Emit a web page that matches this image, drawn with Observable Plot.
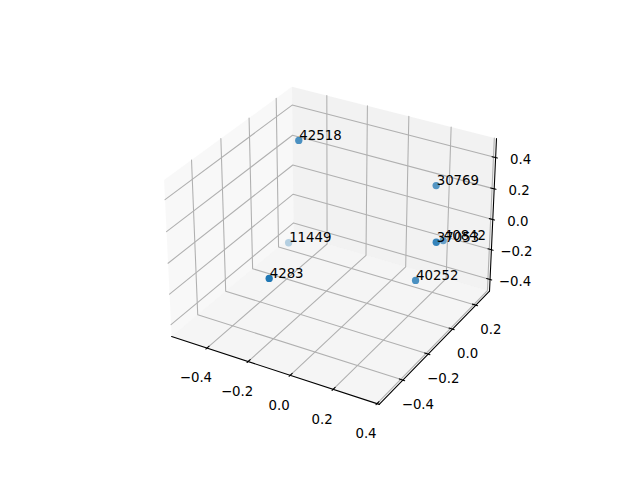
<!DOCTYPE html>
<html><head><meta charset="utf-8">
<style>html,body{margin:0;padding:0;background:#fff}svg{display:block}</style>
<script src="https://cdn.jsdelivr.net/npm/d3@7"></script>
<script src="https://cdn.jsdelivr.net/npm/@observablehq/plot@0.6"></script>
</head><body>
<script>
const xlim=[-0.575,0.41], ylim=[-0.58,0.32], zlim=[-0.48,0.52];
const labels=["42518","30769","37053","40842","40252","11449","4283"];
const xs=[-0.300,0.220,0.334,0.266,0.263,-0.444,-0.177];
const ys=[-0.048,0.171,-0.022,0.161,-0.057,0.084,-0.455];
const zs=[0.504,0.255,0.075,-0.077,-0.174,-0.313,-0.032];
const xTicks=[-0.4,-0.2,0,0.2,0.4], yTicks=[-0.4,-0.2,0,0.2], zTicks=[-0.4,-0.2,0,0.2,0.4];

const norm=Math.hypot(4,4,3), k=1.8294640721620434*25/24/norm;
const A=[4*k,4*k,3*k], R=A.map(a=>a/2), el=30*Math.PI/180, az=-60*Math.PI/180, D=10;
const w=[Math.cos(el)*Math.cos(az),Math.cos(el)*Math.sin(az),Math.sin(el)];
const E=R.map((r,i)=>r+D*w[i]);
const cross=(a,b)=>[a[1]*b[2]-a[2]*b[1],a[2]*b[0]-a[0]*b[2],a[0]*b[1]-a[1]*b[0]];
const nrm=a=>{const n=Math.hypot(...a);return a.map(v=>v/n)};
const u=nrm(cross([0,0,1],w)), v=cross(w,u);
const dot=(a,b)=>a[0]*b[0]+a[1]*b[1]+a[2]*b[2];
function proj([x,y,z]){
 const b=[(x-xlim[0])/(xlim[1]-xlim[0])*A[0],(y-ylim[0])/(ylim[1]-ylim[0])*A[1],(z-zlim[0])/(zlim[1]-zlim[0])*A[2]];
 const e=b.map((c,i)=>c-E[i]); const zv=dot(e,w);
 return {x:dot(e,u)/-zv,y:dot(e,v)/-zv,d:zv};
}
const P=a=>{const p=proj(a);return {x:p.x,y:p.y}};
const path=(pts)=>pts.map(P);
const [x0,x1]=xlim,[y0,y1]=ylim,[z0,z1]=zlim;
const grid=[...xTicks.map(t=>path([[t,y0,z0],[t,y1,z0],[t,y1,z1]])),...yTicks.map(t=>path([[x1,t,z0],[x0,t,z0],[x0,t,z1]])),...zTicks.map(t=>path([[x0,y0,t],[x0,y1,t],[x1,y1,t]]))];
const dxT=(x1-x0)/12,dyT=(y1-y0)/12;
const ticks=[...xTicks.map(t=>path([[t,y0-0.1*dyT,z0],[t,y0+0.2*dyT,z0]])),...yTicks.map(t=>path([[x1+0.1*dxT,t,z0],[x1-0.2*dxT,t,z0]])),...zTicks.map(t=>path([[x1+0.1*dxT,y1,t],[x1-0.2*dxT,y1,t]]))];
const fmt=t=>(t<0?"\u2212":"")+Math.abs(t).toFixed(1);
const tl=(arr,f,dx,dy)=>Plot.text(arr.map(t=>({...P(f(t)),t:fmt(t)})),{x:"x",y:"y",text:"t",dx,dy,fontSize:13.33,fill:"#000"});
const lineSet=(sets,o)=>sets.map(s=>Plot.line(s,{x:"x",y:"y",...o}));
const pane=(pts,c)=>Plot.line(path(pts),{x:"x",y:"y",fill:c,fillOpacity:0.5,stroke:null});
const pts=labels.map((l,i)=>{const p=proj([xs[i],ys[i],zs[i]]);return {...p,l}});
const dd=d3.extent(pts,p=>p.d);
pts.forEach(p=>p.a=1-0.7*(dd[1]-p.d)/(dd[1]-dd[0]));
pts.sort((a,b)=>a.d-b.d);
const chart=Plot.plot({width:640,height:480,margin:0,
 x:{domain:[-0.095,0.09],range:[143.2,512.8],axis:null},
 y:{domain:[-0.095,0.09],range:[427.2,57.6],axis:null},
 style:{fontFamily:"'DejaVu Sans'",background:"#fff"},
 marks:[
  pane([[x0,y0,z0],[x0,y1,z0],[x0,y1,z1],[x0,y0,z1],[x0,y0,z0]],"rgb(242,242,242)"),
  pane([[x0,y1,z0],[x1,y1,z0],[x1,y1,z1],[x0,y1,z1],[x0,y1,z0]],"rgb(230,230,230)"),
  pane([[x0,y0,z0],[x1,y0,z0],[x1,y1,z0],[x0,y1,z0],[x0,y0,z0]],"rgb(236,236,236)"),
  ...lineSet(grid,{stroke:"#b0b0b0",strokeWidth:1.07}),
  ...lineSet([path([[x0,y0,z0],[x1,y0,z0]]),path([[x1,y0,z0],[x1,y1,z0]]),path([[x1,y1,z0],[x1,y1,z1]])],{stroke:"#000",strokeWidth:1.07}),
  ...lineSet(ticks,{stroke:"#000",strokeWidth:1.07}),
  tl(xTicks,t=>[t,y0,z0],-11,30),
  tl(yTicks,t=>[x1,t,z0],15,24.5),
  tl(zTicks,t=>[x1,y1,t],25,2),
  Plot.dot(pts,{x:"x",y:"y",r:3.65,fill:"#1f77b4",fillOpacity:"a",stroke:null}),
  Plot.text(pts,{x:"x",y:"y",text:"l",textAnchor:"start",lineAnchor:"bottom",dx:0.5,dy:-0.5,fontSize:13.33,fill:"#000"})
 ]});
document.body.appendChild(chart);
</script></body></html>
